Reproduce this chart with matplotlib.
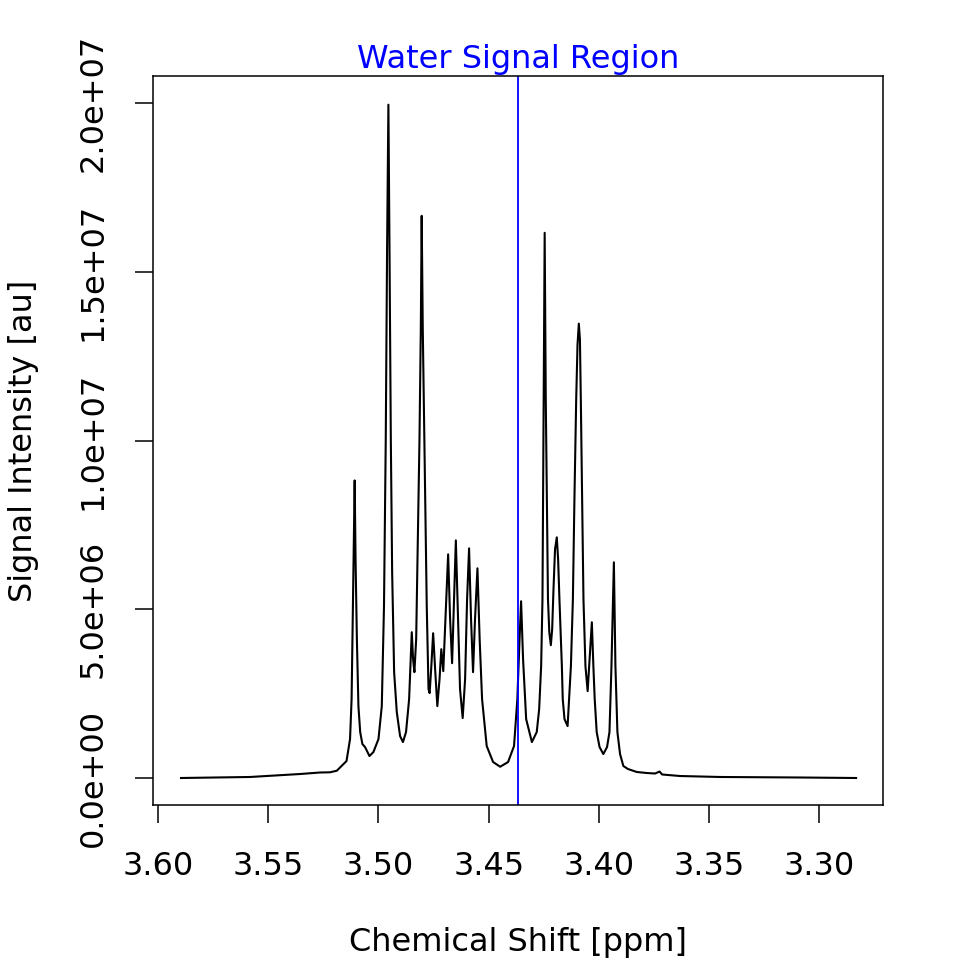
import numpy as np
import matplotlib
matplotlib.use("Agg")
import matplotlib.pyplot as plt

# spectrum, chemical shift in ppm / intensity in 1e6 au
shift = [3.5896, 3.5583, 3.5356, 3.5265, 3.5220, 3.5189, 3.5159, 3.5145, 3.5129, 3.5122,
         3.5118, 3.5113, 3.5108, 3.5104, 3.5098, 3.5091, 3.5083, 3.5073, 3.5061, 3.5041,
         3.5023, 3.5000, 3.4985, 3.4975, 3.4967, 3.4961, 3.4955, 3.4950, 3.4944, 3.4938,
         3.4929, 3.4917, 3.4902, 3.4889, 3.4875, 3.4861, 3.4854, 3.4849, 3.4843, 3.4837,
         3.4829, 3.4819, 3.4814, 3.4808, 3.4804, 3.4799, 3.4792, 3.4786, 3.4781, 3.4773,
         3.4768, 3.4761, 3.4752, 3.4743, 3.4733, 3.4723, 3.4715, 3.4706, 3.4696, 3.4684,
         3.4675, 3.4666, 3.4657, 3.4649, 3.4639, 3.4630, 3.4618, 3.4607, 3.4598, 3.4589,
         3.4580, 3.4571, 3.4562, 3.4551, 3.4541, 3.4530, 3.4509, 3.4480, 3.4448, 3.4412,
         3.4385, 3.4370, 3.4360, 3.4353, 3.4344, 3.4330, 3.4304, 3.4282, 3.4271, 3.4262,
         3.4256, 3.4252, 3.4246, 3.4241, 3.4236, 3.4231, 3.4225, 3.4218, 3.4212, 3.4206,
         3.4199, 3.4191, 3.4185, 3.4179, 3.4168, 3.4164, 3.4156, 3.4142, 3.4127, 3.4118,
         3.4111, 3.4103, 3.4097, 3.4091, 3.4086, 3.4082, 3.4076, 3.4070, 3.4061, 3.4051,
         3.4042, 3.4032, 3.4025, 3.4019, 3.4010, 3.3997, 3.3980, 3.3963, 3.3952, 3.3943,
         3.3938, 3.3932, 3.3925, 3.3916, 3.3904, 3.3889, 3.3868, 3.3828, 3.3783, 3.3745,
         3.3725, 3.3713, 3.3632, 3.3450, 3.3087, 3.2833]
intensity = [0.000, 0.030, 0.118, 0.163, 0.169, 0.216, 0.414, 0.503, 1.154, 2.337,
             4.112, 6.479, 8.817, 6.479, 4.112, 2.130, 1.361, 1.006, 0.917, 0.651,
             0.769, 1.154, 2.130, 5.089, 10.030, 15.651, 19.950, 15.651, 10.030, 6.095,
             3.136, 1.953, 1.243, 1.065, 1.361, 2.337, 3.521, 4.320, 3.521, 3.136,
             4.112, 8.047, 10.030, 13.284, 16.657, 13.284, 10.030, 7.071, 5.089, 2.633,
             2.515, 3.225, 4.290, 3.225, 2.130, 2.929, 3.817, 3.166, 4.704, 6.627,
             4.704, 3.402, 5.296, 7.041, 4.704, 2.633, 1.775, 2.929, 5.296, 6.805,
             4.704, 3.136, 4.704, 6.213, 4.112, 2.337, 0.947, 0.473, 0.334, 0.473,
             0.947, 2.337, 4.112, 5.237, 3.521, 1.746, 1.065, 1.361, 2.041, 3.314,
             5.296, 9.734, 16.154, 11.213, 8.254, 5.296, 4.320, 3.935, 4.408, 5.592,
             6.775, 7.130, 6.479, 5.296, 3.314, 2.337, 1.746, 1.538, 3.314, 5.296,
             8.254, 11.213, 12.840, 13.462, 12.988, 11.213, 8.254, 5.296, 3.314, 2.574,
             3.521, 4.615, 3.314, 2.337, 1.361, 0.917, 0.710, 0.917, 1.361, 3.314,
             4.704, 6.391, 3.314, 1.361, 0.710, 0.355, 0.266, 0.178, 0.148, 0.133,
             0.192, 0.104, 0.059, 0.030, 0.015, 0.000]
water_ppm = 3.4367

x_ticks = [3.60, 3.55, 3.50, 3.45, 3.40, 3.35, 3.30]
y_ticks = [0, 5e6, 1e7, 1.5e7, 2e7]

fs = 23
fig = plt.figure(figsize=(9.6, 9.6), dpi=100)
ax = fig.add_axes([153/960, 155/960, 730/960, 729/960])

ax.plot(shift, np.array(intensity) * 1e6, color="black", lw=1.5)
ax.axvline(water_ppm, color="#0000FF", lw=1.3)

ax.set_xlim(3.6023, 3.2711)
ax.set_ylim(-0.8e6, 20.8e6)

ax.set_xticks(x_ticks)
ax.set_xticklabels([f"{t:.2f}" for t in x_ticks])
ax.set_yticks(y_ticks)
ax.set_yticklabels([f"{t:.1e}" for t in y_ticks], rotation=90, va="center")

ax.tick_params(axis="both", direction="out", length=13, width=1.1, labelsize=fs, color="black")
ax.tick_params(axis="x", pad=20)
ax.tick_params(axis="y", pad=19)
for s in ax.spines.values():
    s.set_linewidth(1.1)

fig.text(518/960, 1 - 68/960, "Water Signal Region", color="#0000FF", fontsize=fs,
         ha="center", va="baseline")
fig.text(518/960, 1 - 951/960, "Chemical Shift [ppm]", fontsize=fs, ha="center", va="baseline")
fig.text(32/960, 1 - 441/960, "Signal Intensity [au]", fontsize=fs, rotation=90,
         rotation_mode="anchor", ha="center", va="baseline")

fig.savefig("out.png", dpi=100)
